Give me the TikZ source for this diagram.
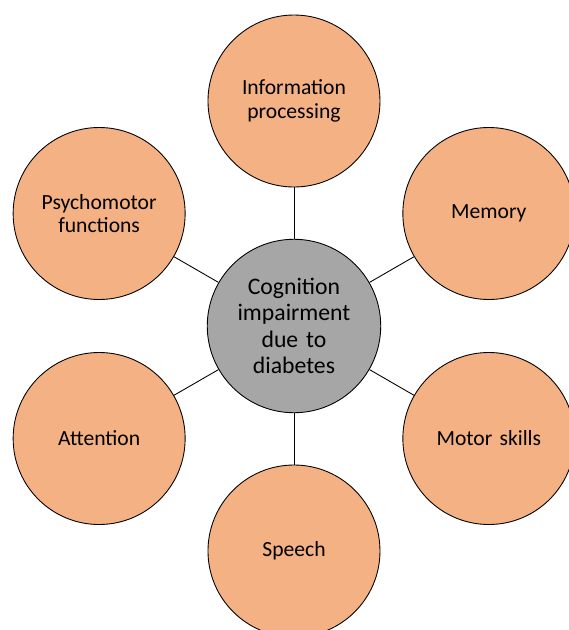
\documentclass[tikz,border=0pt]{standalone}
\usepackage{fontspec}
\setmainfont{Carlito}
\usetikzlibrary{positioning}
\definecolor{petal}{HTML}{F4B183}
\definecolor{hub}{HTML}{A6A6A6}

\begin{document}
\begin{tikzpicture}[line width=0.5pt]
		  \tikzstyle{topic}=[circle,fill=petal,draw=black,minimum size=3.44cm,inner sep=0pt,
		                     text width=2.9cm,align=center,font=\fontsize{12.3}{13.4}\selectfont]
		  \tikzstyle{core}=[circle,fill=hub,draw=black,minimum size=3.44cm,inner sep=0pt,
		                    text width=2.9cm,align=center,font=\fontsize{13.5}{15.1}\selectfont]

		  \useasboundingbox (-5.88,-6.08) rectangle (5.48,6.52);

		  \node[core]  (C)             {Cognition\\impairment\\due to\\diabetes};
		  \node[topic] (I) at (90:4.5)  {Information\\processing};
		  \node[topic] (M) at (30:4.5)  {Memory};
		  \node[topic] (K) at (-30:4.5) {Motor skills};
		  \node[topic] (S) at (-90:4.5) {Speech};
		  \node[topic] (A) at (210:4.5) {Attention};
		  \node[topic] (P) at (150:4.5) {Psychomotor\\functions};

		  \path[draw] (C) edge (I) edge (M) edge (K) edge (S) edge (A) edge (P);
		\end{tikzpicture}
\end{document}
